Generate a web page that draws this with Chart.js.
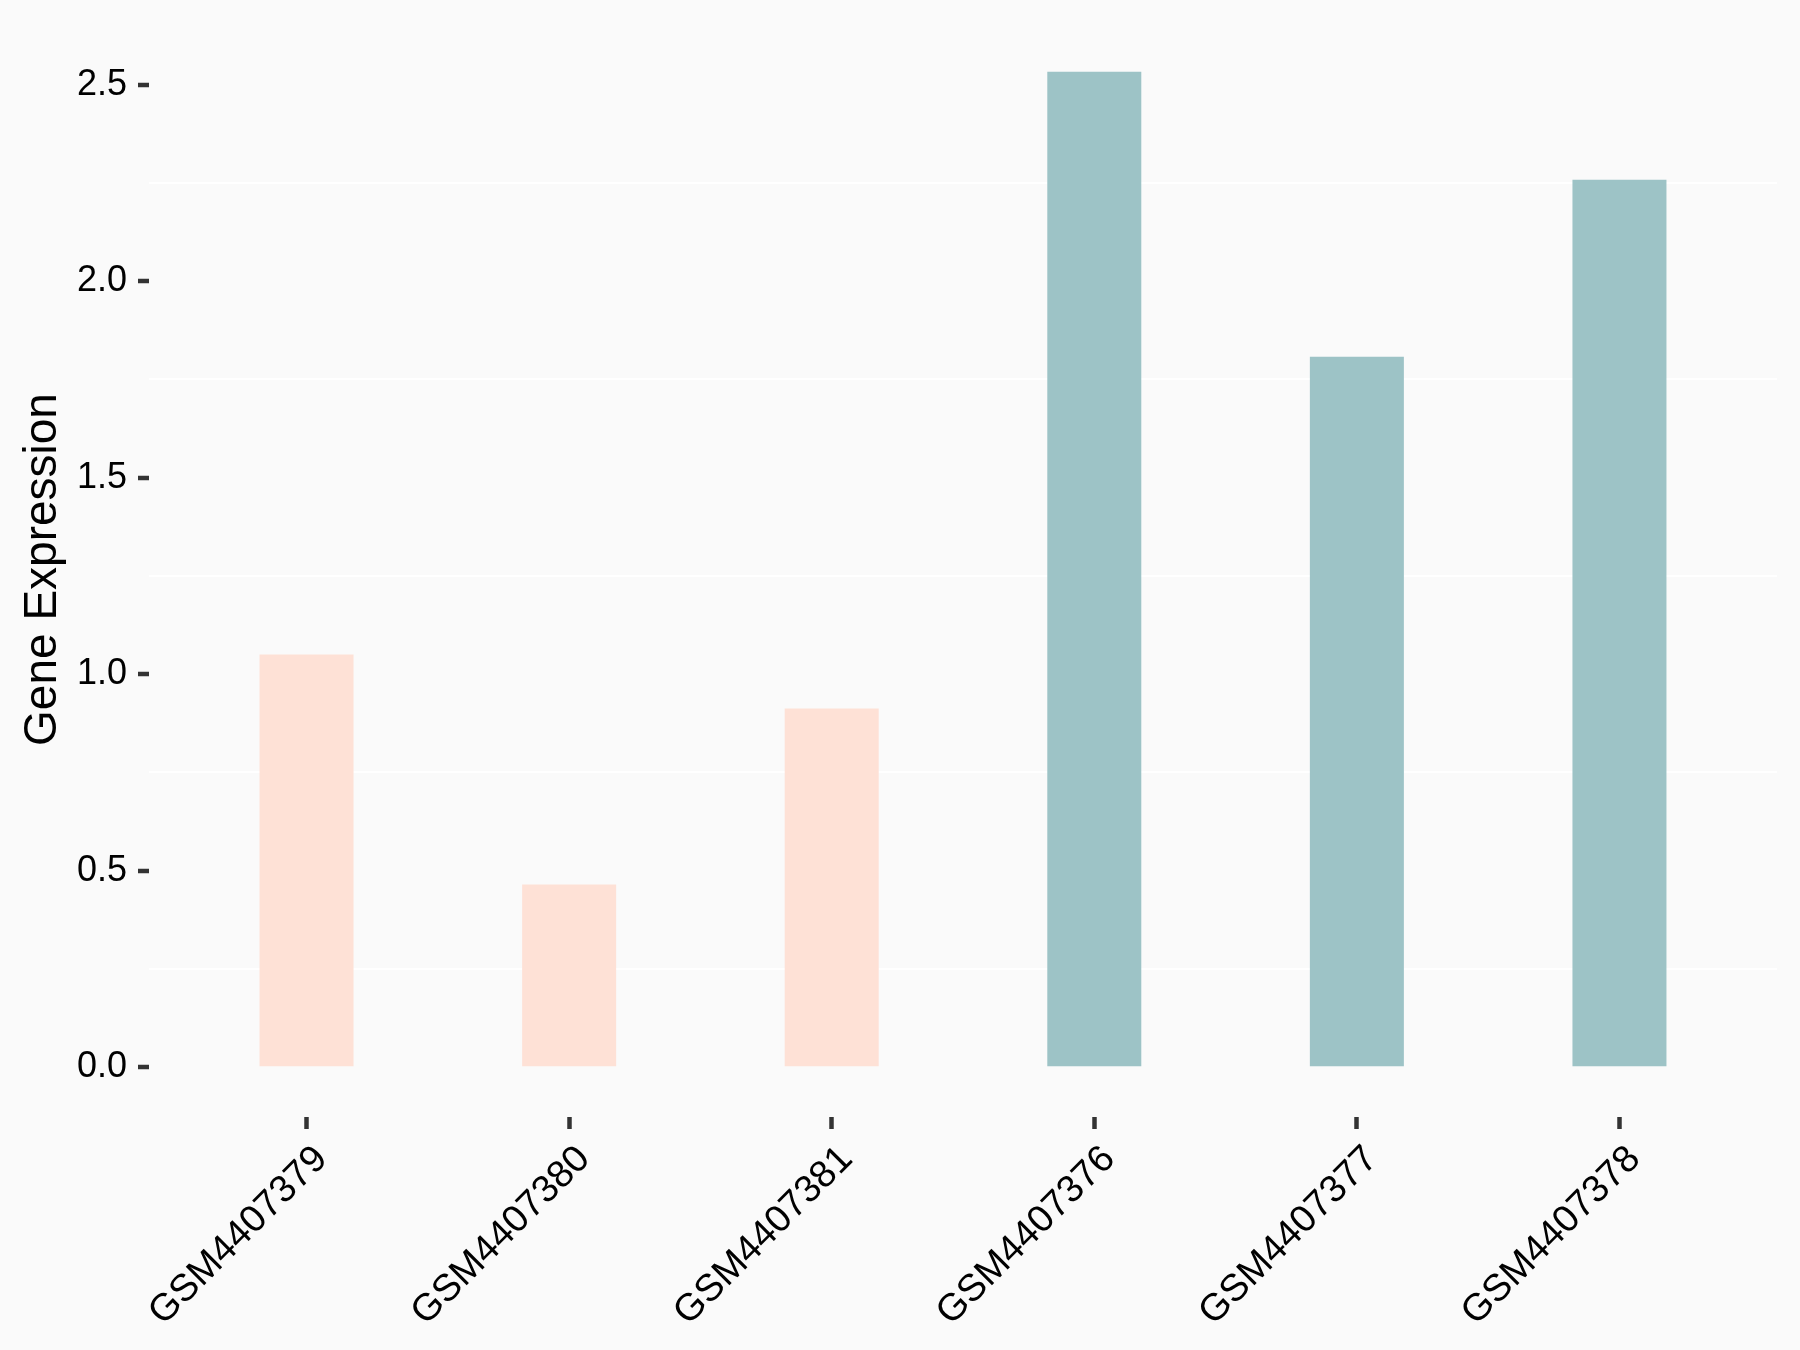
<!DOCTYPE html>
<html>
<head>
<meta charset="utf-8">
<script src="https://cdn.jsdelivr.net/npm/chart.js@4.4.0/dist/chart.umd.min.js"></script>
<style>
  body { margin: 0; background: #FAFAFA; }
  canvas { display: block; }
</style>
</head>
<body>
<canvas id="geneChart" width="1800" height="1350"></canvas>
<script>
// --- data ---
const samples = ['GSM4407379', 'GSM4407380', 'GSM4407381', 'GSM4407376', 'GSM4407377', 'GSM4407378'];
const expression = [1.050, 0.465, 0.913, 2.533, 1.808, 2.258];
const groups = ['low', 'low', 'low', 'high', 'high', 'high'];
const yTicks = [0, 0.25, 0.5, 0.75, 1.0, 1.25, 1.5, 1.75, 2.0, 2.25, 2.5];

const groupColors = { low: '#FEE1D6', high: '#9DC3C6' };

// ggplot-style expansion of the axes
const yMax = Math.max(...expression);
const yMin = 0;
const ySpan = yMax - yMin;

const isMajor = v => Math.abs(v * 2 - Math.round(v * 2)) < 1e-6;

const ctx = document.getElementById('geneChart').getContext('2d');
new Chart(ctx, {
    type: 'bar',
    data: {
        datasets: [{
            data: expression.map((v, i) => ({ x: i, y: v })),
            backgroundColor: groups.map(g => groupColors[g]),
            borderWidth: 0,
            categoryPercentage: 1,
            barPercentage: 0.358
        }]
    },
    options: {
        responsive: false,
        animation: false,
        layout: { padding: { top: 22, right: 23, left: 0, bottom: 0 } },
        plugins: { legend: { display: false }, tooltip: { enabled: false } },
        scales: {
            x: {
                type: 'linear',
                offset: false,
                min: -0.6,
                max: samples.length - 0.4,
                afterBuildTicks: s => { s.ticks = samples.map((_, i) => ({ value: i })); },
                afterFit: s => { s.height = 233; s.paddingLeft = 0; s.paddingRight = 0; },
                border: { display: false },
                grid: {
                    offset: false,
                    drawOnChartArea: false,
                    tickLength: 12,
                    tickColor: '#333333',
                    tickWidth: 4.5
                },
                ticks: {
                    autoSkip: false,
                    minRotation: 45,
                    maxRotation: 45,
                    padding: 8,
                    labelOffset: 15,
                    color: '#000000',
                    font: { family: 'Liberation Sans', size: 38 },
                    callback: v => samples[v] ?? ''
                }
            },
            y: {
                min: yMin - 0.05 * ySpan,
                max: yMax + 0.05 * ySpan,
                afterBuildTicks: s => { s.ticks = yTicks.map(v => ({ value: v })); },
                afterFit: s => { s.width = 149; s.paddingTop = 0; s.paddingBottom = 0; },
                border: { display: false },
                grid: {
                    color: c => isMajor(c.tick.value) ? 'rgba(0,0,0,0)' : '#FFFFFF',
                    lineWidth: 2,
                    tickLength: 11,
                    tickWidth: 4.5,
                    tickColor: c => isMajor(c.tick.value) ? '#333333' : 'rgba(0,0,0,0)'
                },
                ticks: {
                    padding: 11,
                    color: '#000000',
                    font: { family: 'Liberation Sans', size: 36 },
                    callback: v => isMajor(v) ? v.toFixed(1) : ''
                },
                title: {
                    display: true,
                    text: 'Gene Expression',
                    color: '#000000',
                    font: { family: 'Liberation Sans', size: 46 },
                    padding: { top: 16, bottom: 0 }
                }
            }
        }
    }
});
</script>
</body>
</html>
